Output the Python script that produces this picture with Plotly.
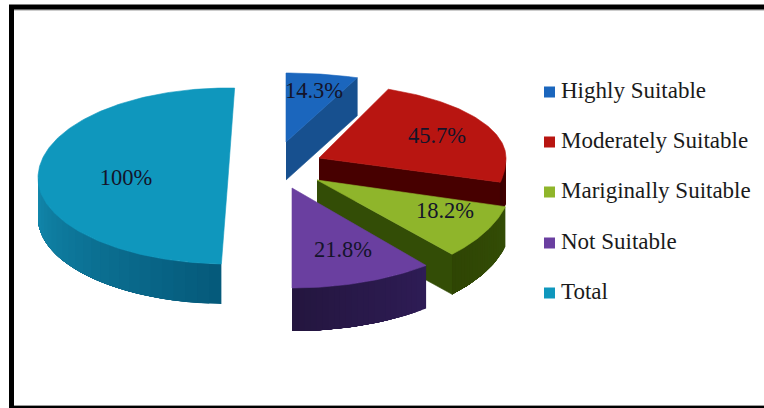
import math
import plotly.graph_objects as go

# Land suitability classes and their percentages
categories = ["Highly Suitable", "Moderately Suitable", "Mariginally Suitable", "Not Suitable", "Total"]
values = [14.3, 45.7, 18.2, 21.8, 100]
value_labels = ["14.3%", "45.7%", "18.2%", "21.8%", "100%"]

face_colors = ["#1b66bd", "#b81511", "#8fb52b", "#6a3fa0", "#0f97bd"]
side_from = ["#17508f", "#470000", "#334d06", "#2e1c55", "#1289ad"]
side_to = ["#154a85", "#3a0000", "#2f4504", "#24163f", "#05597a"]

# Exploded-wedge geometry of the tilted pie, one entry per class
apex_x = [286, 319, 317, 292, 228]
apex_y = [142, 158, 180, 188, 178]
radius_x = [195, 187, 195, 212, 190]
radius_up = [69, 74, 70, 70, 90]
radius_down = [100, 100, 103, 100, 86]
depth = [38, 38, 40, 43, 40]
skew_start = [0, -4, -3, 0, 2]
skew_end = [-4.3, -4, -4.6, 0, 2]
label_x = [314, 437, 445, 343, 126]
label_y = [92, 137, 212, 251, 179]

legend_swatch_x = 549.5
legend_text_x = 561
legend_y = [92, 142, 192, 243, 293]

FONT = "Liberation Serif"


def rim_point(i, phi):
    """Point on the elliptical rim of wedge i at projected angle phi (degrees)."""
    rad = math.radians(phi)
    c = math.cos(rad)
    ry = radius_up[i] if c >= 0 else radius_down[i]
    return apex_x[i] + radius_x[i] * math.sin(rad), apex_y[i] - ry * c


def mix(a, b, t):
    ca = [int(a[k:k + 2], 16) for k in (1, 3, 5)]
    cb = [int(b[k:k + 2], 16) for k in (1, 3, 5)]
    return "#" + "".join(f"{round(p + (q - p) * t):02x}" for p, q in zip(ca, cb))


def polygon(fig, xs, ys, color, edge=0.6):
    fig.add_trace(go.Scatter(
        x=xs, y=ys, mode="lines", fill="toself", fillcolor=color,
        line=dict(color=color, width=edge), hoverinfo="skip", showlegend=False,
    ))


fig = go.Figure()

# Cumulative angles come straight from the values
whole = sum(values)
starts, ends, running = [], [], 0.0
for v in values:
    starts.append(running)
    running += v / whole * 360
    ends.append(running)

# Back wedges first so nearer ones overlap them
for i in [4, 0, 1, 2, 3]:
    a0 = starts[i] + skew_start[i]
    a1 = ends[i] + skew_end[i]
    d = depth[i]

    # extruded cut face along the closing radius
    if 0 < a1 < 179:
        ex, ey = rim_point(i, a1)
        polygon(fig,
                [apex_x[i], ex, ex, apex_x[i]],
                [apex_y[i], ey, ey + d, apex_y[i] + d],
                side_from[i])

    # outer wall: only the part of the rim facing the viewer; each strip runs
    # to the far end of the wall so the next one is painted over it seamlessly
    lo, hi = max(a0, 90), min(a1, 270)
    if hi > lo:
        bands = 24
        for b in range(bands):
            p0 = lo + (hi - lo) * b / bands
            steps = [p0 + (hi - p0) * s / 24 for s in range(25)]
            rim = [rim_point(i, p) for p in steps]
            xs = [p[0] for p in rim] + [p[0] for p in reversed(rim)]
            ys = [p[1] for p in rim] + [p[1] + d for p in reversed(rim)]
            t = 1 - (b + 0.5) / bands if i == 4 else (b + 0.5) / bands
            polygon(fig, xs, ys, mix(side_from[i], side_to[i], t), edge=0)

    # top face
    count = max(int(a1 - a0), 2)
    rim = [rim_point(i, a0 + (a1 - a0) * s / count) for s in range(count + 1)]
    polygon(fig,
            [apex_x[i]] + [p[0] for p in rim] + [apex_x[i]],
            [apex_y[i]] + [p[1] for p in rim] + [apex_y[i]],
            face_colors[i])

# Percentage labels on the wedges
fig.add_trace(go.Scatter(
    x=label_x, y=label_y, mode="text", text=value_labels,
    textposition="middle center",
    textfont=dict(family=FONT, size=22.5, color="#14142a"),
    hoverinfo="skip", showlegend=False,
))

# Legend column
fig.add_trace(go.Scatter(
    x=[legend_swatch_x] * len(categories), y=legend_y, mode="markers",
    marker=dict(symbol="square", size=11, color=face_colors, line=dict(width=0)),
    hoverinfo="skip", showlegend=False,
))
fig.add_trace(go.Scatter(
    x=[legend_text_x] * len(categories), y=legend_y, mode="text", text=categories,
    textposition="middle right",
    textfont=dict(family=FONT, size=23, color="#1a1a1a"),
    hoverinfo="skip", showlegend=False,
))


def rule(x0, y0, x1, y1, color, width):
    return dict(type="line", xref="x", yref="y", x0=x0, y0=y0, x1=x1, y1=y1,
                line=dict(color=color, width=width), layer="above")


fig.update_layout(
    width=764, height=408,
    margin=dict(l=0, r=0, t=0, b=0),
    paper_bgcolor="white", plot_bgcolor="white",
    xaxis=dict(range=[0, 764], visible=False, fixedrange=True),
    yaxis=dict(range=[408, 0], visible=False, fixedrange=True),
    # open frame: top, left and bottom rules with a soft inner edge
    shapes=[
        rule(9, 10, 764, 10, "#9a9a9a", 1),
        rule(9, 405.5, 764, 405.5, "#9a9a9a", 1),
        rule(9, 7, 764, 7, "black", 5),
        rule(11.5, 5, 11.5, 408, "black", 5),
        rule(9, 407, 764, 407, "black", 2),
    ],
)

fig.write_html("out.html", config=dict(displayModeBar=False))
